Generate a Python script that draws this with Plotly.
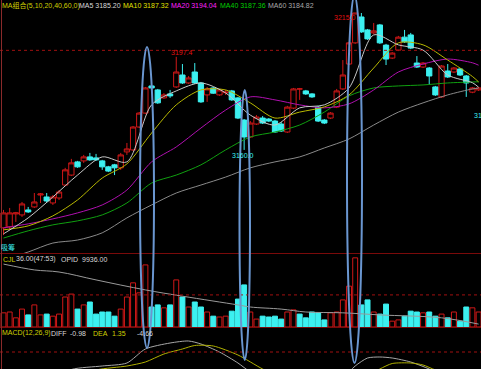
import plotly.graph_objects as go

# ---------------- data ----------------
idx = list(range(78))
opens = [3128.7, 3129.1, 3134.3, 3133.9, 3135.9, 3137.1, 3141.9, 3141.1, 3138.7, 3140.7,
         3145.9, 3149.9, 3155.2, 3155.6, 3157.2, 3156.8, 3155.6, 3153.2, 3154.0, 3152.8,
         3159.2, 3160.0, 3169.2, 3174.8, 3185.7, 3184.1, 3180.9, 3182.5, 3185.3, 3190.1,
         3186.9, 3191.3, 3186.9, 3182.1, 3184.9, 3182.1, 3183.0, 3183.7, 3180.9, 3172.0,
         3165.2, 3170.4, 3172.8, 3172.4, 3171.6, 3170.4, 3167.2, 3176.8, 3184.5, 3183.7,
         3182.5, 3177.2, 3172.0, 3172.8, 3177.2, 3184.5, 3194.5, 3203.0, 3213.4, 3208.2,
         3207.0, 3210.2, 3202.1, 3196.9, 3200.1, 3205.3, 3206.2, 3194.9, 3193.3, 3192.9,
         3185.3, 3181.3, 3191.7, 3191.3, 3192.5, 3189.7, 3183.2, 3184.1]
closes = [3134.7, 3134.7, 3134.7, 3138.3, 3135.1, 3139.1, 3142.3, 3139.5, 3141.1, 3143.1,
          3152.0, 3154.8, 3153.2, 3157.2, 3156.0, 3156.0, 3153.2, 3151.5, 3152.8, 3158.0,
          3160.4, 3169.2, 3174.8, 3184.9, 3184.9, 3178.9, 3182.1, 3181.7, 3191.3, 3186.9,
          3188.9, 3186.9, 3179.3, 3184.5, 3182.8, 3184.1, 3183.2, 3180.1, 3172.8, 3165.2,
          3170.8, 3173.2, 3170.8, 3171.6, 3167.2, 3167.6, 3177.2, 3184.5, 3184.5, 3182.5,
          3181.3, 3171.6, 3170.8, 3174.8, 3183.7, 3190.1, 3203.0, 3215.0, 3207.4, 3204.6,
          3207.8, 3203.0, 3196.5, 3198.9, 3205.3, 3203.4, 3200.9, 3193.3, 3194.9, 3189.7,
          3182.1, 3193.7, 3189.3, 3192.9, 3190.1, 3186.9, 3184.9, 3184.9]
highs = [3135.9, 3136.7, 3135.1, 3139.1, 3137.1, 3142.7, 3142.7, 3142.7, 3141.9, 3143.9,
         3152.8, 3156.4, 3155.6, 3158.0, 3158.8, 3158.4, 3156.0, 3153.6, 3154.4, 3158.8,
         3162.8, 3169.6, 3175.2, 3185.3, 3186.1, 3184.5, 3182.8, 3184.1, 3197.4, 3194.5,
         3189.7, 3194.9, 3187.3, 3185.3, 3185.3, 3184.5, 3184.1, 3184.1, 3181.3, 3172.4,
         3171.6, 3174.0, 3173.6, 3172.8, 3172.0, 3171.2, 3177.7, 3184.9, 3184.9, 3184.1,
         3182.8, 3177.7, 3172.4, 3175.2, 3184.5, 3196.1, 3203.4, 3215.0, 3215.0, 3208.6,
         3211.0, 3210.6, 3202.6, 3199.3, 3205.8, 3208.2, 3207.0, 3197.7, 3195.3, 3193.3,
         3185.7, 3194.1, 3194.5, 3193.3, 3192.9, 3190.1, 3185.3, 3185.3]
lows = [3125.8, 3127.9, 3131.1, 3133.1, 3134.7, 3136.7, 3138.7, 3138.7, 3137.9, 3139.9,
        3145.5, 3149.5, 3152.8, 3154.8, 3155.6, 3155.6, 3152.0, 3151.1, 3149.9, 3152.0,
        3158.0, 3159.6, 3168.8, 3174.4, 3184.5, 3178.5, 3180.5, 3180.9, 3184.9, 3186.5,
        3186.5, 3186.5, 3178.9, 3179.3, 3182.5, 3181.7, 3182.1, 3179.7, 3172.4, 3160.0,
        3164.8, 3170.0, 3170.4, 3171.2, 3166.8, 3167.2, 3166.8, 3176.4, 3180.1, 3182.1,
        3180.9, 3171.2, 3170.4, 3172.4, 3176.8, 3184.1, 3194.1, 3202.6, 3207.0, 3204.2,
        3206.6, 3202.6, 3194.1, 3196.5, 3199.7, 3203.0, 3200.5, 3192.9, 3192.9, 3186.1,
        3181.7, 3180.9, 3188.9, 3190.9, 3189.7, 3181.3, 3182.8, 3183.7]
volumes = [34, 36, 22, 43, 29, 53, 29, 31, 26, 31,
           72, 79, 43, 53, 60, 31, 36, 36, 26, 43,
           72, 106, 82, 149, 48, 53, 46, 53, 113, 72,
           48, 60, 48, 36, 26, 24, 26, 38, 67, 101,
           36, 19, 26, 24, 26, 19, 36, 41, 31, 22,
           36, 34, 17, 34, 36, 65, 98, 166, 53, 65,
           36, 31, 55, 14, 17, 26, 38, 36, 34, 36,
           26, 31, 22, 36, 14, 48, 46, 36]

ma_idx = [0, 4, 8, 12, 16, 20, 24, 28, 32, 36, 40, 44, 48, 52, 56, 60, 64, 68, 72, 76, 77]
ma5 = [3126.3, 3132.7, 3141.1, 3149.9, 3157.2, 3155.2, 3178.1, 3183.7, 3186.9, 3182.9, 3174.0,
       3170.0, 3176.9, 3178.1, 3184.9, 3206.2, 3202.2, 3200.1, 3190.1, 3187.0, 3185.2]
ma10 = [3127.9, 3129.5, 3133.5, 3139.9, 3148.7, 3154.4, 3166.8, 3178.1, 3184.1, 3184.1, 3178.9,
        3172.8, 3175.2, 3177.3, 3182.1, 3192.9, 3203.0, 3202.2, 3196.1, 3189.5, 3187.32]
ma20 = [3128.7, 3130.3, 3132.3, 3134.7, 3137.9, 3143.9, 3155.2, 3161.2, 3168.8, 3176.0, 3181.3,
        3180.1, 3178.1, 3176.9, 3178.5, 3184.1, 3191.3, 3194.5, 3196.5, 3195.0, 3194.04]
ma40 = [3124.6, 3127.5, 3129.9, 3131.5, 3133.9, 3138.7, 3146.7, 3149.9, 3154.0, 3160.0, 3165.2,
        3167.2, 3170.0, 3175.2, 3181.7, 3184.9, 3185.7, 3186.1, 3186.9, 3187.3, 3187.36]
ma60 = [3115.8, 3119.0, 3122.6, 3123.8, 3126.7, 3132.7, 3137.9, 3142.7, 3145.9, 3149.1, 3152.8,
        3155.2, 3157.2, 3160.8, 3164.4, 3170.0, 3175.2, 3178.9, 3182.1, 3184.5, 3184.82]

vol_line_idx = [0, 5, 9, 15, 23, 29, 38, 40, 45, 49, 55, 61, 71, 77]
vol_line = [151, 137, 132, 113, 89, 74, 53, 48, 43, 36, 34, 29, 22, 7]

diff_idx = [0, 6, 11, 16, 20, 23, 27, 30, 32, 35, 38, 40, 44, 48, 52, 55, 57, 59, 61, 63, 66, 69, 72, 77]
diff = [-1.7, -0.2, 1.35, 1.7, 2.0, 3.4, 4.0, 4.2, 3.9, 3.1, 2.0, 1.1, -0.2, -0.9, -0.7, 0.5,
        1.7, 2.5, 2.6, 2.5, 2.1, 1.4, 0.5, -0.7]
dea_idx = [0, 8, 15, 20, 23, 26, 29, 31, 34, 38, 42, 46, 52, 58, 61, 63, 66, 68, 70, 74, 77]
dea = [-1.7, -0.2, 1.3, 1.7, 2.1, 2.9, 3.4, 3.75, 3.7, 2.8, 1.4, 0.3, -0.5, 0.3, 1.4, 1.95,
       2.0, 1.8, 1.3, 0.5, 0.1]

# ---------------- styling ----------------
W, H = 481, 369
RED = "#d01818"
CYAN = "#3cf0f0"
SEP = "#7a0a0a"
DOT = "#a01010"
FONT = "Liberation Sans, Arial, Noto Sans CJK SC, sans-serif"
FS = 7
XR = [-0.567, 77.39]

fig = go.Figure()

fig.add_trace(go.Candlestick(
    x=idx, open=opens, high=highs, low=lows, close=closes,
    increasing=dict(line=dict(color=RED, width=1), fillcolor="#000000"),
    decreasing=dict(line=dict(color=CYAN, width=1), fillcolor=CYAN),
    whiskerwidth=0, xaxis="x", yaxis="y", hoverinfo="skip"))

for vals, col in [(ma60, "#8a8a8a"), (ma40, "#10a010"), (ma20, "#b010b0"),
                  (ma10, "#b8b800"), (ma5, "#c8c8c8")]:
    fig.add_trace(go.Scatter(x=ma_idx, y=vals, mode="lines",
                             line=dict(color=col, width=1, shape="spline", smoothing=0.8),
                             xaxis="x", yaxis="y", hoverinfo="skip"))

up = [c > o for o, c in zip(opens, closes)]
fig.add_trace(go.Bar(x=[i for i in idx if up[i]], y=[volumes[i] for i in idx if up[i]],
                     marker=dict(color="#000000", line=dict(color=RED, width=1)),
                     xaxis="x2", yaxis="y2", hoverinfo="skip"))
fig.add_trace(go.Bar(x=[i for i in idx if not up[i]], y=[volumes[i] for i in idx if not up[i]],
                     marker=dict(color=CYAN, line=dict(color=CYAN, width=1)),
                     xaxis="x2", yaxis="y2", hoverinfo="skip"))
fig.add_trace(go.Scatter(x=vol_line_idx, y=vol_line, mode="lines",
                         line=dict(color="#9a9a9a", width=1, shape="spline"),
                         xaxis="x2", yaxis="y2", hoverinfo="skip"))

fig.add_trace(go.Scatter(x=diff_idx, y=diff, mode="lines",
                         line=dict(color="#a8a8a8", width=1, shape="spline", smoothing=0.7),
                         xaxis="x3", yaxis="y3", hoverinfo="skip"))
fig.add_trace(go.Scatter(x=dea_idx, y=dea, mode="lines",
                         line=dict(color="#b0b000", width=1, shape="spline", smoothing=0.7),
                         xaxis="x3", yaxis="y3", hoverinfo="skip"))

ax = dict(showgrid=False, zeroline=False, showticklabels=False, showline=False, ticks="",
          range=XR, fixedrange=True)
fig.update_layout(
    width=W, height=H, margin=dict(l=0, r=0, t=0, b=0, pad=0, autoexpand=False),
    paper_bgcolor="#000000", plot_bgcolor="#000000", showlegend=False,
    bargap=0.2, barmode="overlay", boxgap=0.12, boxgroupgap=0.03,
    xaxis=dict(ax, rangeslider=dict(visible=False), anchor="y"),
    xaxis2=dict(ax, anchor="y2", matches="x"),
    xaxis3=dict(ax, anchor="y3", matches="x"),
    yaxis=dict(showgrid=False, zeroline=False, showticklabels=False, ticks="",
               domain=[1 - 253 / H, 1], range=[3118.6, 3220.22], fixedrange=True),
    yaxis2=dict(showgrid=False, zeroline=False, showticklabels=False, ticks="",
                domain=[1 - 327 / H, 1 - 254 / H], range=[0, 175.2], fixedrange=True),
    yaxis3=dict(showgrid=False, zeroline=False, showticklabels=False, ticks="",
                domain=[0, 1 - 328 / H], range=[1.4, 5.5], fixedrange=True),
)

# reference (dotted) lines
fig.add_shape(type="line", xref="paper", x0=0, x1=1, yref="y", y0=3200, y1=3200,
              line=dict(color=DOT, width=1, dash="dot"))
fig.add_shape(type="line", xref="paper", x0=0, x1=1, yref="y2", y0=77, y1=77,
              line=dict(color=DOT, width=1, dash="dot"))
fig.add_shape(type="line", xref="paper", x0=0, x1=1, yref="y3", y0=3.1, y1=3.1,
              line=dict(color=DOT, width=1, dash="dot"))
# panel separators and left border
for py in (253.5, 327.5):
    fig.add_shape(type="line", xref="paper", x0=0, x1=1, yref="paper",
                  y0=1 - py / H, y1=1 - py / H, line=dict(color=SEP, width=1))
fig.add_shape(type="line", xref="paper", x0=1.5 / W, x1=1.5 / W, yref="paper", y0=0, y1=1,
              line=dict(color="#8a2a2a", width=1))

# hand-drawn ellipses
for x0, x1, y0, y1 in [(140, 154, 47, 348), (239.5, 250, 90, 360), (347, 362, -5, 363)]:
    fig.add_shape(type="circle", xref="paper", yref="paper",
                  x0=x0 / W, x1=x1 / W, y0=1 - y1 / H, y1=1 - y0 / H,
                  line=dict(color="#6a96d0", width=2))


def label(text, px, py, color, size=FS):
    fig.add_annotation(text=text, xref="paper", yref="paper", x=px / W, y=1 - py / H,
                       xanchor="left", yanchor="middle", showarrow=False, borderpad=0,
                       font=dict(family=FONT, size=size, color=color))


label("MA组合(5,10,20,40,60,0)", 1, 6, "#d0d000")
label("MA5 3185.20", 78, 6, "#d8d8d8")
label("MA10 3187.32", 122, 6, "#e0e000")
label("MA20 3194.04", 170, 6, "#ff20ff")
label("MA40 3187.36", 219, 6, "#00d000")
label("MA60 3184.82", 267, 6, "#a8a8a8")

label("吸筹", 0, 247, CYAN)
label("CJL", 2, 259, "#d0d000")
label("36.00(47:53)", 15, 259, "#d8d8d8")
label("OPID", 60, 259, "#d8d8d8")
label("9936.00", 81, 259, "#d8d8d8")

label("MACD(12,26,9)", 1, 333, "#d0d000")
label("DIFF", 50, 333, "#d8d8d8")
label("-0.98", 69, 333, "#d8d8d8")
label("DEA", 92, 333, "#d0d000")
label("1.35", 111, 333, "#d0d000")
label("-4.66", 136, 333, "#d8d8d8")

# high / low markers
fig.add_annotation(text="3197.4", x=28, y=3197.4, xref="x", yref="y", showarrow=False,
                   xanchor="center", yanchor="bottom", xshift=6, yshift=0, borderpad=0,
                   font=dict(family=FONT, size=FS, color="#e01010"))
fig.add_annotation(text="3215.0", x=57, y=3215.0, xref="x", yref="y", showarrow=False,
                   xanchor="right", yanchor="middle", xshift=2, yshift=-4, borderpad=0,
                   font=dict(family=FONT, size=FS, color="#e01010"))
fig.add_annotation(text="3160.0", x=39, y=3160.0, xref="x", yref="y", showarrow=False,
                   xanchor="center", yanchor="top", xshift=-1, yshift=-1, borderpad=0,
                   font=dict(family=FONT, size=FS, color=CYAN))
label("3176.6", 473, 116, CYAN)

fig.write_html("out.html", config={"displayModeBar": False, "staticPlot": True},
               post_script="document.body.style.margin='0';document.body.style.overflow='hidden';"
                           "document.body.style.background='#000';")
